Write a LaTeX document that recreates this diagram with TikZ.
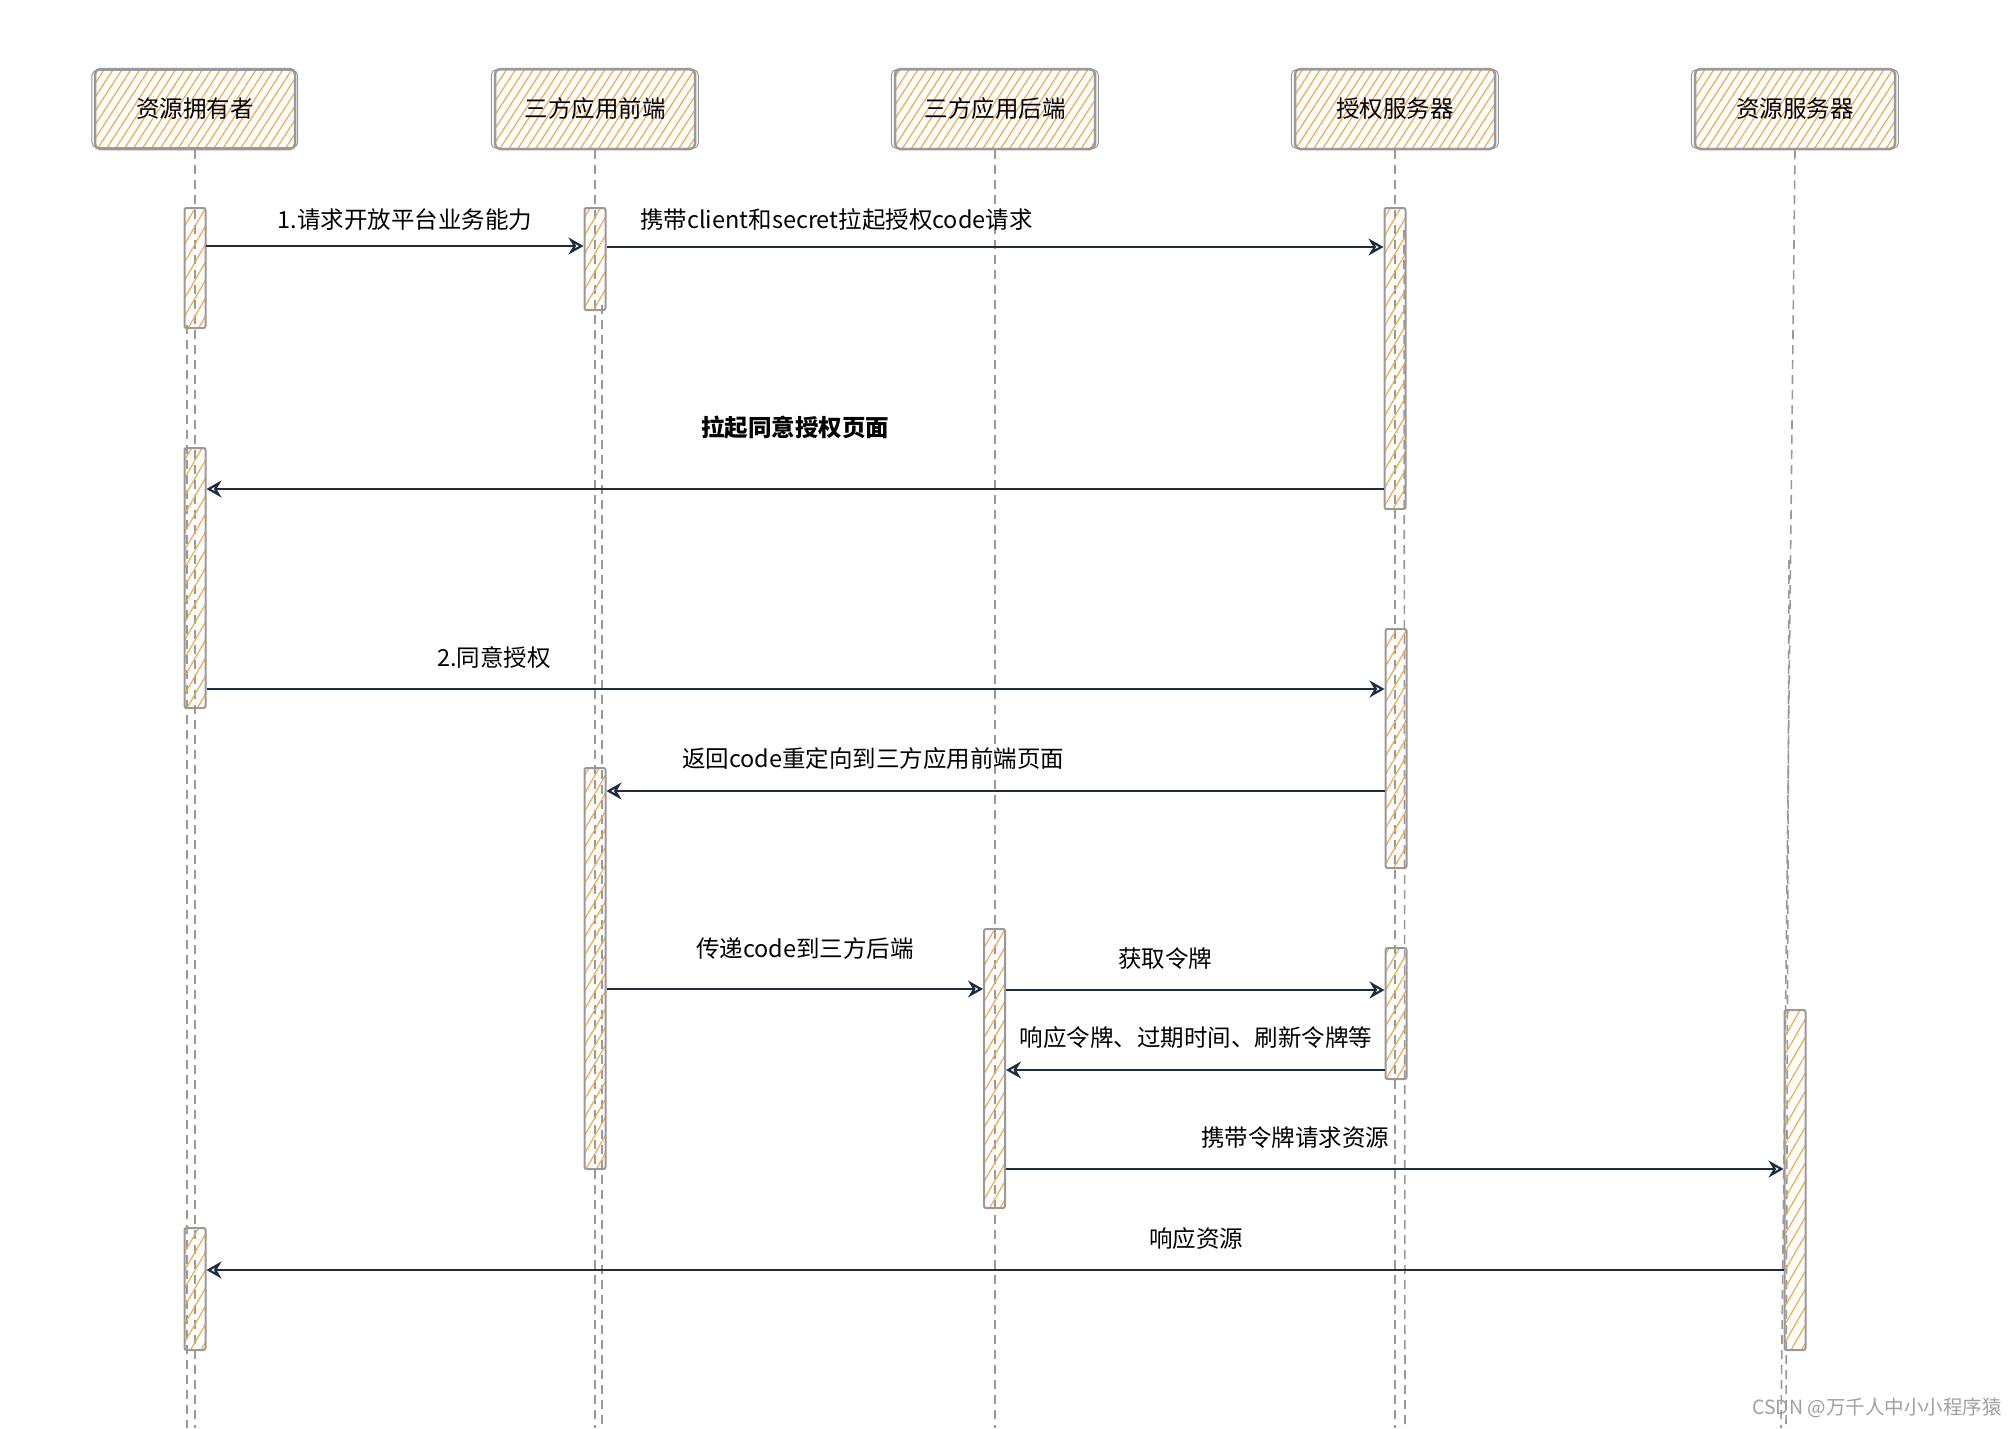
\documentclass[tikz,border=0pt]{standalone}
\usepackage{fontspec}
\setmainfont{Noto Sans CJK SC}
\usetikzlibrary{patterns.meta,arrows.meta}
\definecolor{hatch}{HTML}{F5A84A}
\definecolor{edge}{HTML}{999999}
\definecolor{ink}{HTML}{1C2D40}
\definecolor{wmgray}{HTML}{A0A0A0}
\begin{document}
\begin{tikzpicture}[x=1pt,y=-1pt,
  actor/.style={draw=edge,line width=2.5pt,rounded corners=5pt,minimum width=200pt,minimum height=80pt,
    pattern={Lines[angle=57,distance=7.5pt,line width=1.2pt]},pattern color=hatch,
    font=\fontsize{23.5}{28}\selectfont,inner sep=0pt},
  sketch/.style={draw=edge,line width=1pt,rounded corners=5pt},
  bar/.style={draw=edge,line width=2pt,rounded corners=2pt,minimum width=21pt,inner sep=0pt,
    pattern={Lines[angle=60,distance=9pt,line width=1.2pt]},pattern color=hatch},
  life/.style={draw=edge,line width=1.6pt,dash pattern=on 9pt off 6pt},
  msg/.style={draw=ink,line width=2.3pt,-{Stealth[open,length=15pt,width=17pt,inset=5pt,line width=2.2pt]}},
  lbl/.style={font=\fontsize{23.5}{28}\selectfont,inner sep=0pt,text=black},
  wm/.style={font=\fontsize{19.5}{22}\selectfont,inner sep=0pt,text=wmgray}]
\useasboundingbox (0,0) rectangle (2016,1428);
\fill[white] (0,0) rectangle (2016,1428);

% lifeline ends
\coordinate (oE) at (195,1428);
\coordinate (fE) at (595,1428);
\coordinate (bE) at (995,1428);
\coordinate (aE) at (1395,1428);
\coordinate (rE) at (1781,1428);

% actors
\node[actor] (ho) at (195,109) {资源拥有者};
\node[actor] (hf) at (595,109) {三方应用前端};
\node[actor] (hb) at (995,109) {三方应用后端};
\node[actor] (ha) at (1395,109) {授权服务器};
\node[actor] (hr) at (1795,109) {资源服务器};
\foreach \n in {ho,hf,hb,ha,hr}{
  \draw[sketch] ([shift={(-2.5,2)}]\n.north west) rectangle ([shift={(2,-2)}]\n.south east);
}

% lifelines
\draw[life] (ho.south) -- (oE);
\draw[life] (187,325) -- (187,1428);
\draw[life] (hf.south) -- (fE);
\draw[life] (602,305) -- (602,1428);
\draw[life] (hb.south) -- (bE);
\draw[life] (ha.south) -- (aE);
\draw[life] (1404,230) -- (1405,1428);
\draw[life] (hr.south) -- (rE);
\draw[life] (1789,560) -- (1786,1428);

% activation bars
\node[bar,minimum height=120pt] (o1) at (195,268) {};
\node[bar,minimum height=260pt] (o2) at (195,578) {};
\node[bar,minimum height=122pt] (o3) at (195,1289) {};
\node[bar,minimum height=102pt] (f1) at (595,259) {};
\node[bar,minimum height=401pt] (f2) at (595,968.5) {};
\node[bar,minimum height=279pt] (b1) at (994.5,1068.5) {};
\node[bar,minimum height=301pt] (a1) at (1395,358.5) {};
\node[bar,minimum height=239pt] (a2) at (1396,748.5) {};
\node[bar,minimum height=131pt] (a3) at (1396,1013.5) {};
\node[bar,minimum height=340pt] (r1) at (1795,1180) {};

% message levels
\coordinate (m1) at (0,246);
\coordinate (m2) at (0,247);
\coordinate (m3) at (0,489);
\coordinate (m4) at (0,689);
\coordinate (m5) at (0,791);
\coordinate (m6) at (0,989);
\coordinate (m7) at (0,990);
\coordinate (m8) at (0,1070);
\coordinate (m9) at (0,1169);
\coordinate (m10) at (0,1270);

% messages
\draw[msg] (o1.east |- m1) -- (f1.west |- m1);
\draw[msg] (f1.east |- m2) -- (a1.west |- m2);
\draw[msg] (a1.west |- m3) -- (o2.east |- m3);
\draw[msg] (o2.east |- m4) -- (a2.west |- m4);
\draw[msg] (a2.west |- m5) -- (f2.east |- m5);
\draw[msg] (f2.east |- m6) -- (b1.west |- m6);
\draw[msg] (b1.east |- m7) -- (a3.west |- m7);
\draw[msg] (a3.west |- m8) -- (b1.east |- m8);
\draw[msg] (b1.east |- m9) -- (r1.west |- m9);
\draw[msg] (r1.west |- m10) -- (o3.east |- m10);

% labels
\node[lbl] (t1) at (405,220) {1.请求开放平台业务能力};
\node[lbl,anchor=west] (t2) at (640,220) {携带client和secret拉起授权code请求};
\node[lbl,font=\fontsize{23.5}{28}\selectfont\bfseries] (t3) at (795,428) {拉起同意授权页面};
\node[lbl] (t4) at (494,658) {2.同意授权};
\node[lbl,anchor=west] (t5) at (682,759) {返回code重定向到三方应用前端页面};
\node[lbl] (t6) at (805,949) {传递code到三方后端};
\node[lbl] (t7) at (1165,959) {获取令牌};
\node[lbl] (t8) at (1196,1038) {响应令牌、过期时间、刷新令牌等};
\node[lbl] (t9) at (1295,1138) {携带令牌请求资源};
\node[lbl] (t10) at (1196,1239) {响应资源};

\node[wm,anchor=east] (w) at (2002,1408) {CSDN @万千人中小小程序猿};
\end{tikzpicture}
\end{document}
